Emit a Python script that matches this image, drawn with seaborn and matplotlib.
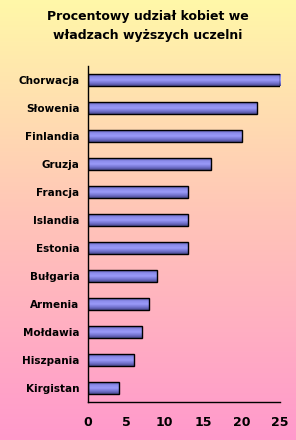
import numpy as np
import pandas as pd
import seaborn as sns
import matplotlib.pyplot as plt
from matplotlib.colors import LinearSegmentedColormap

# -------- DATA --------
countries = ["Chorwacja", "Słowenia", "Finlandia", "Gruzja", "Francja", "Islandia",
             "Estonia", "Bułgaria", "Armenia", "Mołdawia", "Hiszpania", "Kirgistan"]
share = [25, 22, 20, 16, 13, 13, 13, 9, 8, 7, 6, 4]
xticks = [0, 5, 10, 15, 20, 25]

df = pd.DataFrame({"kraj": countries, "udzial": share})

# -------- FIGURE --------
sns.set_style("white")
plt.rcParams["font.family"] = ["DejaVu Sans"]
plt.rcParams["text.color"] = "black"
plt.rcParams["xtick.color"] = "black"
plt.rcParams["ytick.color"] = "black"

fig = plt.figure(figsize=(2.96, 4.4), dpi=100)

# background gradient: yellow (top) -> pink (bottom)
bg = fig.add_axes([0, 0, 1, 1], zorder=-10)
bg_cmap = LinearSegmentedColormap.from_list("bg", ["#ff99cc", "#ffc4b8", "#fff8a8"])
grad = np.linspace(0, 1, 256).reshape(-1, 1)
bg.imshow(grad, aspect="auto", cmap=bg_cmap, origin="lower", extent=[0, 1, 0, 1])
bg.axis("off")

ax = fig.add_axes([0.297, 0.0864, 0.649, 0.7636])
ax.patch.set_alpha(0)

sns.barplot(data=df, x="udzial", y="kraj", orient="h", width=0.4,
            color="#8888ee", edgecolor="black", linewidth=1.0, ax=ax)

# gradient fill inside each bar (darker edges, light middle)
bar_cmap = LinearSegmentedColormap.from_list(
    "bar", ["#48488c", "#7474d0", "#9a9af8", "#8c8cec", "#5c5cac"])
for p in ax.patches:
    x0, y0 = p.get_x(), p.get_y()
    w, h = p.get_width(), p.get_height()
    im = ax.imshow(grad, aspect="auto", cmap=bar_cmap, origin="lower",
                   extent=[x0, x0 + w, y0 + h, y0], zorder=p.get_zorder() + 0.1)
    im.set_clip_path(p)
    p.set_facecolor("none")
    p.set_zorder(p.get_zorder() + 0.2)

ax.set_xlim(0, 25)
ax.set_ylim(len(countries) - 0.5, -0.5)
ax.set_xticks(xticks)
ax.set_xticklabels([str(t) for t in xticks], fontsize=9, fontweight="bold")
ax.set_yticks(range(len(countries)))
ax.set_yticklabels(countries, fontsize=7.5, fontweight="bold")
ax.set_yticks(np.arange(-0.5, len(countries), 1), minor=True)
ax.tick_params(axis="y", which="major", length=0, pad=6)
ax.tick_params(axis="y", which="minor", length=4, width=1, color="black", direction="out")
ax.tick_params(axis="x", length=4, width=1, color="black", direction="out", pad=6)
ax.set_xlabel("")
ax.set_ylabel("")

for s in ["top", "right"]:
    ax.spines[s].set_visible(False)
for s in ["left", "bottom"]:
    ax.spines[s].set_color("black")
    ax.spines[s].set_linewidth(1)

fig.text(0.5, 0.941, "Procentowy udział kobiet we\nwładzach wyższych uczelni",
         ha="center", va="center", fontsize=9, fontweight="bold", linespacing=1.6,
         color="black")

fig.savefig("out.png", dpi=100)
